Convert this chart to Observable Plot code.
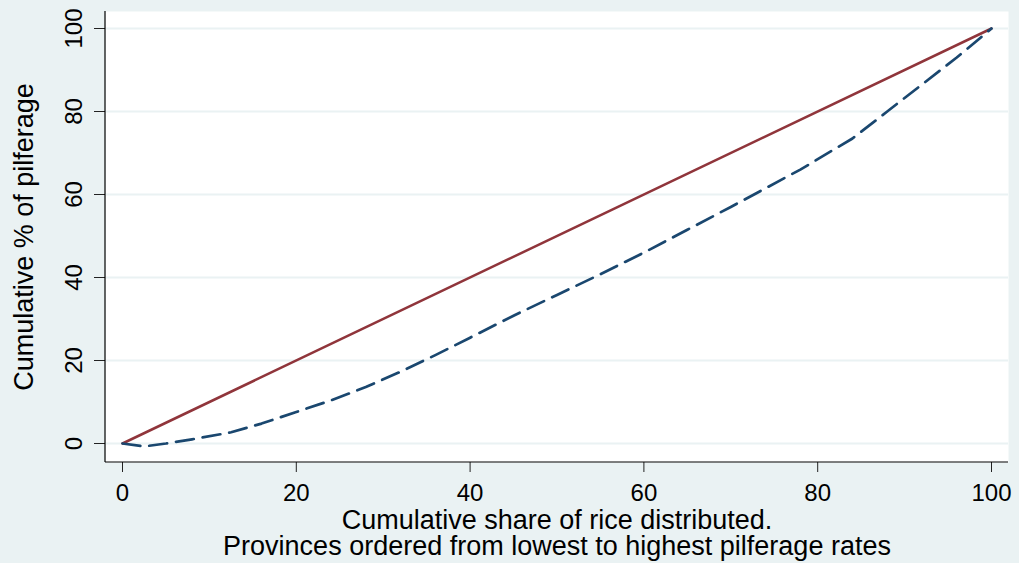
<!DOCTYPE html>
<html><head><meta charset="utf-8">
<script src="https://cdn.jsdelivr.net/npm/d3@7"></script>
<script src="https://cdn.jsdelivr.net/npm/@observablehq/plot@0.6"></script>
<style>
html,body{margin:0;padding:0;background:#EAF2F3;}
</style></head>
<body><div id="chart"></div>
<script>
const shareRice = [0,2.5,5,8,12.5,16,20,24,28,32,36,40,45,50,55,60,65,70,74,78,82,84,88,92,96,100];
const cumPilferage = [0,-0.7,0,1,2.7,4.8,7.6,10.4,13.6,17.3,21.3,25.5,30.8,35.8,40.8,46,51.5,57,61.5,66,71,73.5,80,86.5,93,100];
const equality = [0,100];
const xTicks = [0,20,40,60,80,100];
const yTicks = [0,20,40,60,80,100];
const xTitle1 = "Cumulative share of rice distributed.";
const xTitle2 = "Provinces ordered from lowest to highest pilferage rates";
const yTitle = "Cumulative % of pilferage";

const curve = shareRice.map((s,i)=>({x:s,y:cumPilferage[i]}));
const diag = equality.map(v=>({x:v,y:v}));

const font = "'Liberation Sans', Arial, sans-serif";
const chart = Plot.plot({
  width:1019, height:563,
  marginLeft:105, marginRight:11, marginTop:11, marginBottom:101,
  insetLeft:17, insetRight:17, insetTop:17, insetBottom:19,
  style:{background:"#EAF2F3", fontFamily:font, color:"black"},
  x:{domain:[0,100]},
  y:{domain:[0,100]},
  marks:[
    Plot.frame({fill:"white", stroke:"none"}),
    Plot.gridY(yTicks,{stroke:"#EAF2F3", strokeOpacity:1, strokeWidth:2}),
    Plot.axisY(yTicks,{tickSize:11, tickPadding:13, tickRotate:-90, fontSize:24, label:null, stroke:"#222"}),
    Plot.axisX(xTicks,{tickSize:10, tickPadding:11, fontSize:24, label:null, stroke:"#222"}),
    Plot.line(diag,{x:"x",y:"y",stroke:"#90353B",strokeWidth:2.5}),
    Plot.line(curve,{x:"x",y:"y",stroke:"#1A476F",strokeWidth:2.7,strokeDasharray:"18,9"}),
    Plot.text([xTitle1],{text:d=>d,frameAnchor:"bottom",dy:58,fontSize:27,lineAnchor:"middle",textAnchor:"middle",fill:"black"}),
    Plot.text([xTitle2],{text:d=>d,frameAnchor:"bottom",dy:84,fontSize:27,lineAnchor:"middle",textAnchor:"middle",fill:"black"}),
    Plot.text([yTitle],{text:d=>d,frameAnchor:"left",dx:-81,rotate:-90,fontSize:27,lineAnchor:"middle",textAnchor:"middle",fill:"black"})
  ]
});
const svg = d3.select(chart);
svg.append("line").attr("x1",105).attr("x2",105).attr("y1",11).attr("y2",462).attr("stroke","black").attr("stroke-width",1.2);
svg.append("line").attr("x1",105).attr("x2",1008).attr("y1",462).attr("y2",462).attr("stroke","black").attr("stroke-width",1.2);
document.getElementById("chart").appendChild(chart);
</script></body></html>
